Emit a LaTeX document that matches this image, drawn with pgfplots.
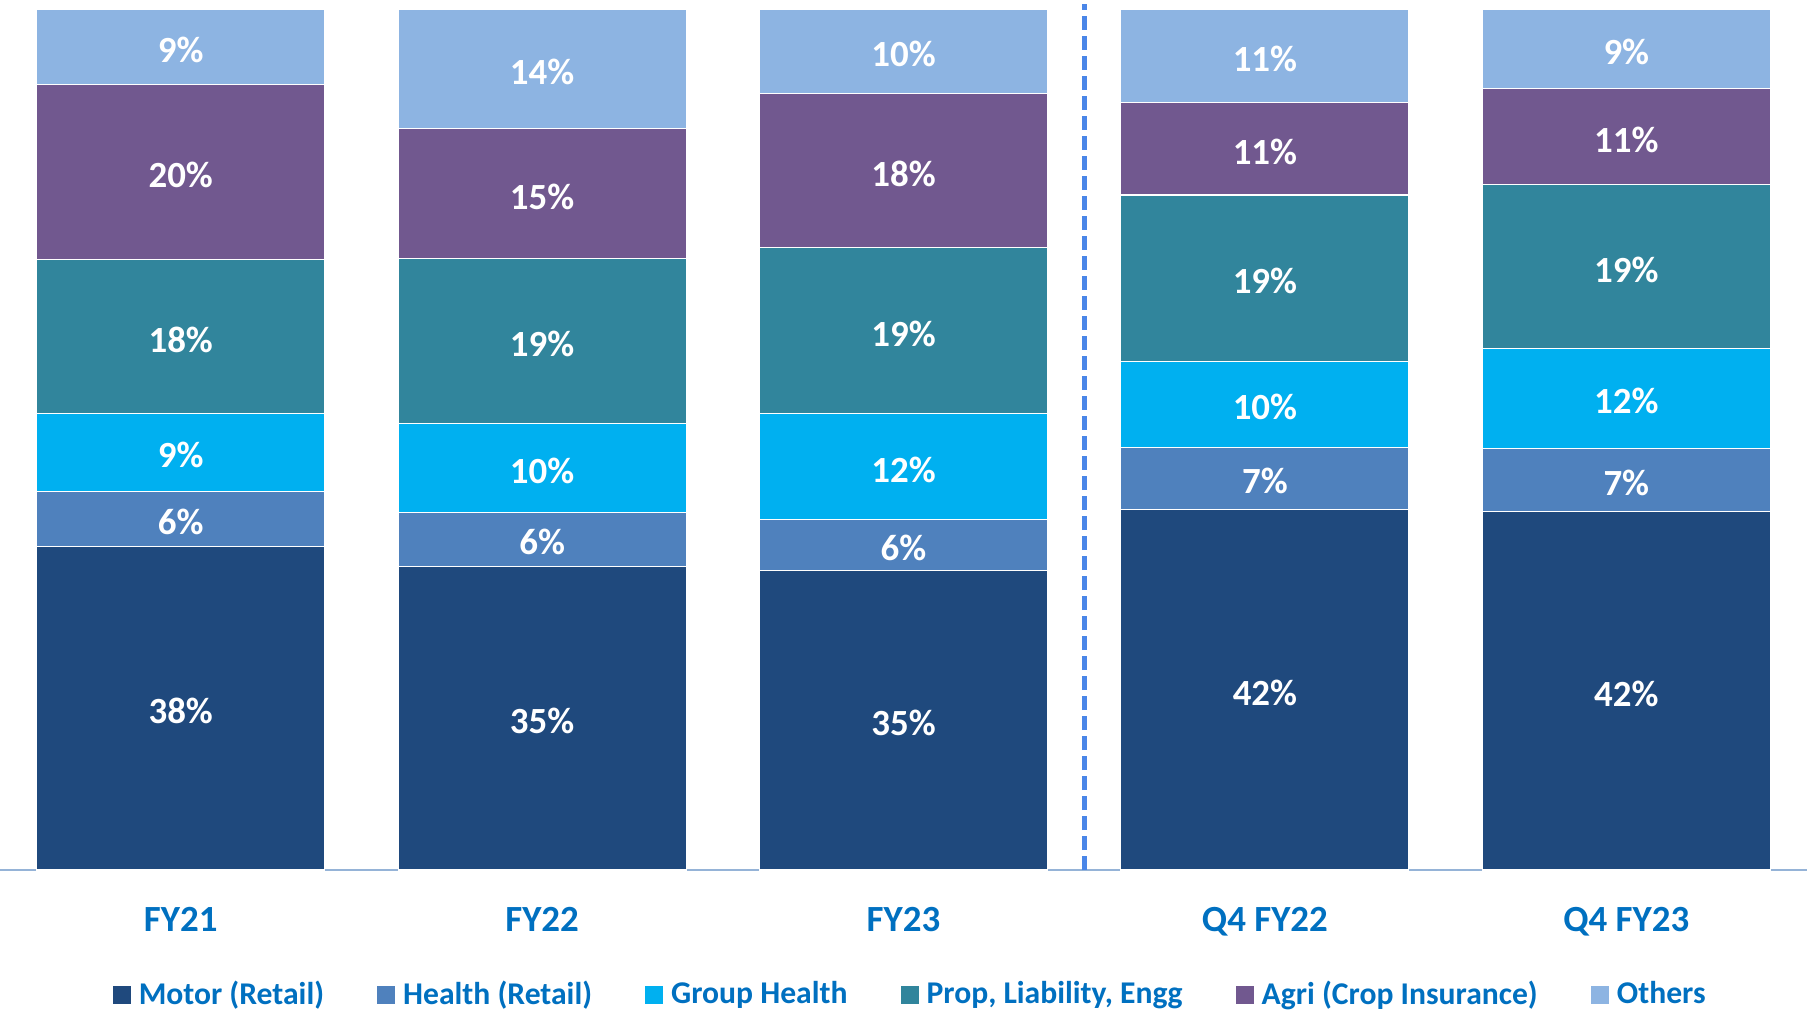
\documentclass[border=0pt]{standalone}
\usepackage{fontspec}
\setmainfont{Carlito}
\usepackage{pgfplots}
\pgfplotsset{compat=1.18}

\definecolor{motor}{HTML}{1F497D}
\definecolor{health}{HTML}{4F81BD}
\definecolor{group}{HTML}{00B0F0}
\definecolor{prop}{HTML}{31859C}
\definecolor{agri}{HTML}{71588F}
\definecolor{others}{HTML}{8DB4E2}
\definecolor{textblue}{HTML}{0070C0}
\definecolor{dashblue}{HTML}{4A86E8}
\definecolor{axisline}{HTML}{95B3D7}

\begin{document}
\begin{tikzpicture}
\begin{axis}[
    scale only axis, width=180.7mm, height=87mm,
    ybar stacked, bar width=0.797,
    xmin=-0.5, xmax=4.5, ymin=0, ymax=101.05,
    axis x line*=bottom, axis y line=none,
    axis line style={-, draw=axisline, line width=0.25mm},
    xtick={0,1,2,3,4},
    xticklabels={FY21,FY22,FY23,Q4 FY22,Q4 FY23},
    major tick length=0,
    xticklabel style={font=\bfseries\fontsize{10.5}{12}\selectfont, text=textblue, anchor=base, yshift=-6.1mm},
    nodes near coords={\pgfmathprintnumber[fixed,precision=0,assume math mode=true]{\pgfplotspointmeta}\%},
    every node near coord/.append style={anchor=center, yshift=-0.3mm,
        font=\bfseries\fontsize{10.5}{12}\selectfont, text=white},
    legend columns=6,
    legend style={at={(0.5048,-0.1437)}, anchor=center, draw=none,
        font=\bfseries\fontsize{9}{11}\selectfont, text=textblue,
        /tikz/every even column/.append style={column sep=4.5mm}},
    legend image code/.code={\fill[#1] (0mm,-0.95mm) rectangle (1.9mm,0.95mm);},
]
% shares in %, bottom to top
\addplot[fill=motor, draw=white, line width=0.3pt] coordinates {(0,37.6) (1,35.3) (2,34.8) (3,41.9) (4,41.6)};
\addplot[fill=health, draw=white, line width=0.3pt] coordinates {(0,6.4) (1,6.2) (2,5.9) (3,7.2) (4,7.4)};
\addplot[fill=group, draw=white, line width=0.3pt] coordinates {(0,9.0) (1,10.4) (2,12.3) (3,10.0) (4,11.6)};
\addplot[fill=prop, draw=white, line width=0.3pt] coordinates {(0,17.9) (1,19.1) (2,19.3) (3,19.3) (4,19.0)};
\addplot[fill=agri, draw=white, line width=0.3pt] coordinates {(0,20.3) (1,15.1) (2,17.9) (3,10.7) (4,11.2)};
\addplot[fill=others, draw=white, line width=0.3pt] coordinates {(0,8.8) (1,13.9) (2,9.8) (3,10.9) (4,9.2)};
\legend{Motor (Retail), Health (Retail), Group Health, {Prop, Liability, Engg}, Agri (Crop Insurance), Others}
\draw[dashblue, line width=0.5mm, dash pattern=on 1.4mm off 0.6mm] (axis cs:2.5,0) -- (axis cs:2.5,100.6);
\end{axis}
\pgfresetboundingbox
\path (current axis.south west) ++(0,-14.6mm) rectangle (current axis.north east);
\end{tikzpicture}
\end{document}
